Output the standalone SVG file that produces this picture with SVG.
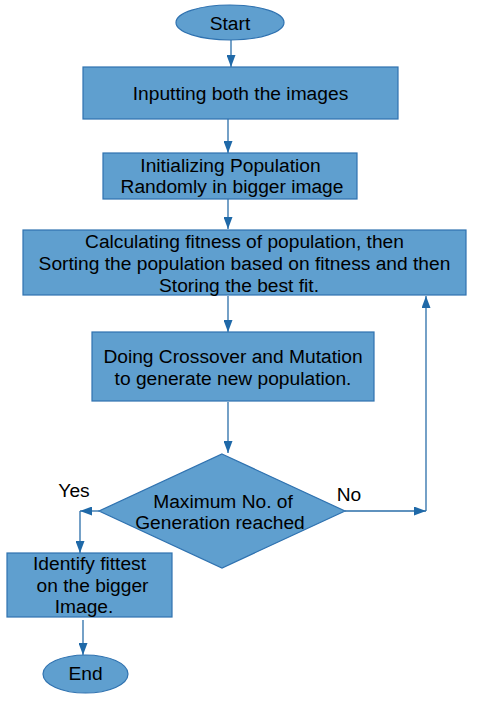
<svg xmlns="http://www.w3.org/2000/svg" width="501" height="702" viewBox="0 0 501 702">
<defs>
<style>
.n{fill:#5f9fcf;stroke:#2f72b0;stroke-width:1.2}
.t{font-family:"Liberation Sans",Arial,sans-serif;font-size:19.2px;fill:#000;text-anchor:middle}
.c{fill:none;stroke:#2a6ea9;stroke-width:1.3}
</style>
<marker id="ah" markerUnits="userSpaceOnUse" markerWidth="12" markerHeight="9" refX="12" refY="4.5" orient="auto">
<path d="M0,0 L12,4.5 L0,9 Z" fill="#1f69a8"/>
</marker>
</defs>
<rect width="501" height="702" fill="#fff"/>
<g id="connectors">
<line class="c" x1="231" y1="40" x2="231" y2="67" marker-end="url(#ah)"/>
<line class="c" x1="228" y1="119" x2="228" y2="153" marker-end="url(#ah)"/>
<line class="c" x1="228" y1="199" x2="228" y2="229" marker-end="url(#ah)"/>
<line class="c" x1="228" y1="296" x2="228" y2="332" marker-end="url(#ah)"/>
<line class="c" x1="228" y1="402" x2="228" y2="453" marker-end="url(#ah)"/>
<line class="c" x1="99" y1="511" x2="80" y2="511" marker-end="url(#ah)"/>
<line class="c" x1="80" y1="511" x2="80" y2="553" marker-end="url(#ah)"/>
<line class="c" x1="83" y1="620" x2="83" y2="655" marker-end="url(#ah)"/>
<line class="c" x1="345" y1="511" x2="426" y2="511" marker-end="url(#ah)"/>
<line class="c" x1="426" y1="511" x2="426" y2="296" marker-end="url(#ah)"/>
<text class="t" x="74" y="497">Yes</text>
<text class="t" x="349" y="501">No</text>
</g>
<g id="start">
<ellipse class="n" cx="230" cy="22.5" rx="54" ry="17.5"/>
<text class="t" x="230" y="30">Start</text>
</g>
<g id="input">
<rect class="n" x="83" y="67" width="315" height="52"/>
<text class="t" x="240.5" y="100">Inputting both the images</text>
</g>
<g id="init">
<rect class="n" x="103" y="153" width="254" height="46"/>
<text class="t" x="230.5" y="172">Initializing Population</text>
<text class="t" x="232" y="193">Randomly in bigger image</text>
</g>
<g id="fitness">
<rect class="n" x="23" y="230" width="443" height="65"/>
<text class="t" x="244.5" y="248">Calculating fitness of population, then</text>
<text class="t" x="244.5" y="270">Sorting the population based on fitness and then</text>
<text class="t" x="239" y="292">Storing the best fit.</text>
</g>
<g id="crossover">
<rect class="n" x="92" y="332" width="282" height="69"/>
<text class="t" x="233" y="363">Doing Crossover and Mutation</text>
<text class="t" x="233" y="385">to generate new population.</text>
</g>
<g id="decision">
<polygon class="n" points="222,454 345,511 222,568 99,511"/>
<text class="t" x="223" y="508">Maximum No. of</text>
<text class="t" x="220" y="529">Generation reached</text>
</g>
<g id="identify">
<rect class="n" x="7" y="553" width="165" height="64"/>
<text class="t" x="89.5" y="570">Identify fittest</text>
<text class="t" x="92.5" y="592">on the bigger</text>
<text class="t" x="84" y="613">Image.</text>
</g>
<g id="end">
<ellipse class="n" cx="85.5" cy="674" rx="42.5" ry="19"/>
<text class="t" x="85.5" y="680">End</text>
</g>
</svg>
